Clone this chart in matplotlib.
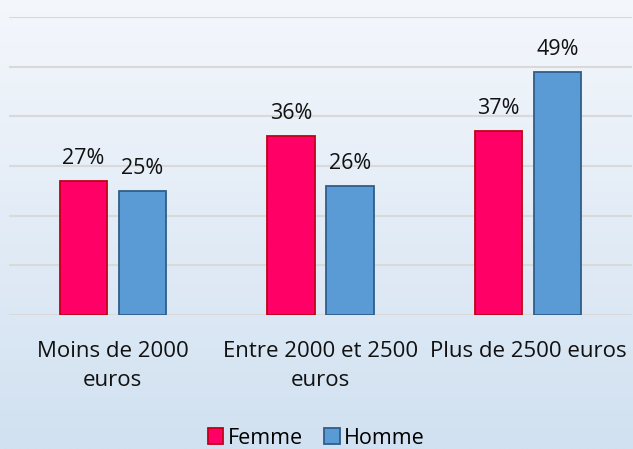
import numpy as np
import matplotlib.pyplot as plt
from matplotlib.colors import LinearSegmentedColormap

categories = ['Moins de 2000\neuros', 'Entre 2000 et 2500\neuros', 'Plus de 2500 euros']
femme = [27, 36, 37]
homme = [25, 26, 49]
series_names = ['Femme', 'Homme']

plt.rcParams['font.family'] = ['Open Sans', 'DejaVu Sans']

fig = plt.figure(figsize=(6.33, 4.49), dpi=100)

# background gradient
bg = fig.add_axes([0, 0, 1, 1], zorder=-1)
grad = np.linspace(0, 1, 256).reshape(-1, 1)
cmap = LinearSegmentedColormap.from_list('bg', ['#F4F7FC', '#D1E1F1'])
bg.imshow(grad, aspect='auto', cmap=cmap, extent=[0, 1, 0, 1], origin='upper')
bg.axis('off')

ax = fig.add_axes([9 / 633, 134 / 449, 623 / 633, 298 / 449])
ax.patch.set_alpha(0)

x = np.arange(len(categories))
w = 0.227
off = 0.142
b1 = ax.bar(x - off, femme, w, color='#FF0066', edgecolor='#C00018', linewidth=1.3, label=series_names[0], zorder=3)
b2 = ax.bar(x + off, homme, w, color='#5B9BD5', edgecolor='#2F5F8A', linewidth=1.3, label=series_names[1], zorder=3)

for bars in (b1, b2):
    for r in bars:
        ax.text(r.get_x() + r.get_width() / 2, r.get_height() + 3.4, f'{int(r.get_height())}%',
                ha='center', va='baseline', fontsize=15.5, color='#111111')

ax.set_xlim(-0.5, 2.5)
ax.set_ylim(0, 60)
ax.set_yticks(np.arange(0, 61, 10))
ax.yaxis.grid(True, color='#D9D9D9', linewidth=1.5, zorder=0)
ax.set_axisbelow(True)
ax.tick_params(left=False, labelleft=False, bottom=False)
for s in ax.spines.values():
    s.set_visible(False)
ax.set_xticks(x)
ax.set_xticklabels(categories, fontsize=16, color='#111111', linespacing=1.55)
ax.tick_params(axis='x', pad=15)

fig.legend(handles=[b1, b2], labels=series_names, loc='center', bbox_to_anchor=(0.5, 1 - 438 / 449),
           ncol=2, frameon=False, fontsize=15.5, handlelength=0.7, handleheight=0.7,
           handletextpad=0.2, columnspacing=1.0)

fig.savefig('out.png', dpi=100)
